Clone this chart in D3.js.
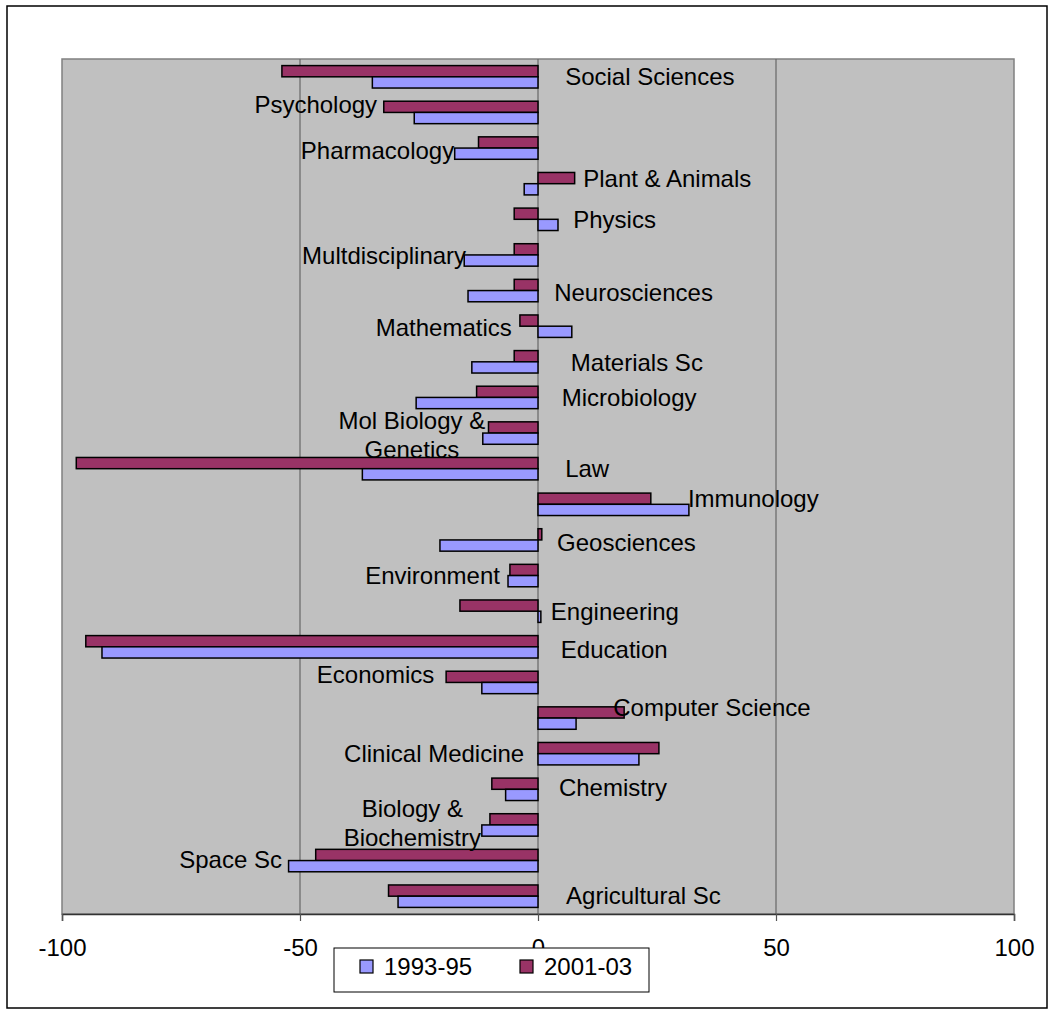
<!DOCTYPE html>
<html>
<head>
<meta charset="utf-8">
<script src="https://cdn.jsdelivr.net/npm/d3@7"></script>
<style>
  html, body { margin: 0; padding: 0; background: #fff; }
  svg { display: block; font-family: "Liberation Sans", Arial, sans-serif; }
</style>
</head>
<body>
<svg id="chart" width="1054" height="1014"></svg>
<script>
// ---- data (top to bottom as drawn) ----
const categories = [
  "Social Sciences", "Psychology", "Pharmacology", "Plant & Animals", "Physics",
  "Multdisciplinary", "Neurosciences", "Mathematics", "Materials Sc", "Microbiology",
  "Mol Biology & Genetics", "Law", "Immunology", "Geosciences", "Environment",
  "Engineering", "Education", "Economics", "Computer Science", "Clinical Medicine",
  "Chemistry", "Biology & Biochemistry", "Space Sc", "Agricultural Sc"
];
const series1993 = [
  -34.8, -26.0, -17.5, -2.9, 4.2,
  -15.5, -14.7, 7.1, -13.9, -25.6,
  -11.6, -36.9, 31.7, -20.6, -6.3,
  0.6, -91.6, -11.8, 8.0, 21.2,
  -6.8, -11.8, -52.4, -29.4
];
const series2001 = [
  -53.8, -32.4, -12.5, 7.7, -5.0,
  -5.0, -5.0, -3.8, -5.0, -12.9,
  -10.4, -97.0, 23.7, 0.8, -5.9,
  -16.4, -95.0, -19.3, 18.1, 25.4,
  -9.7, -10.1, -46.7, -31.4
];
const seriesNames = ["1993-95", "2001-03"];
const xTicks = [-100, -50, 0, 50, 100];

// label lines (category names split as shown)
const labelLines = categories.map(c =>
  c === "Mol Biology & Genetics" ? ["Mol Biology &", "Genetics"] :
  c === "Biology & Biochemistry" ? ["Biology &", "Biochemistry"] : [c]);

// label layout: anchor value on x axis, text anchor, vertical nudge (px)
const labelLayout = [
  [5.7, "start", 0], [-33.8, "end", -8], [-17.6, "end", 2], [9.5, "start", -5], [7.4, "start", 0],
  [-15.1, "end", 0], [3.4, "start", 2], [-5.5, "end", 1], [6.9, "start", 1], [5.0, "start", 0],
  [-26.5, "middle", 2], [5.7, "start", 0], [31.5, "start", -6], [4.0, "start", 2], [-8.0, "end", 0],
  [2.7, "start", 0], [4.8, "start", 3], [-21.8, "end", -8], [15.8, "start", -11], [-2.9, "end", 0],
  [4.4, "start", -2], [-26.4, "middle", -2], [-53.8, "end", -1], [5.9, "start", -1]
];

// ---- layout ----
const svg = d3.select("#chart");
const plot = { left: 62, right: 1014, top: 59, bottom: 914 };
const colors = { s1993: "#9999FF", s2001: "#993366" };

const x = d3.scaleLinear().domain([-100, 100]).range([plot.left, plot.right]);
const y = d3.scaleBand().domain(categories).range([plot.top, plot.bottom])
  .paddingInner(0.37).paddingOuter(0.185);
const sub = d3.scaleBand().domain(["2001-03", "1993-95"]).range([0, y.bandwidth()]);

// outer frame
svg.append("rect").attr("x", 7).attr("y", 6).attr("width", 1040).attr("height", 1002)
  .attr("fill", "#fff").attr("stroke", "#000").attr("stroke-width", 1.5);

// plot area
svg.append("rect").attr("x", plot.left).attr("y", plot.top)
  .attr("width", plot.right - plot.left).attr("height", plot.bottom - plot.top)
  .attr("fill", "#C0C0C0").attr("stroke", "#808080").attr("stroke-width", 1.5);

// gridlines
svg.append("g").selectAll("line").data(xTicks.filter(t => t > -100 && t < 100)).join("line")
  .attr("x1", d => x(d)).attr("x2", d => x(d))
  .attr("y1", plot.top).attr("y2", plot.bottom)
  .attr("stroke", "#666").attr("stroke-width", 1.2);

// bars
const rows = categories.map((c, i) => ({ c, v1: series1993[i], v2: series2001[i] }));
const barG = svg.append("g");
function drawSeries(key, name, color) {
  barG.append("g").selectAll("rect").data(rows).join("rect")
    .attr("x", d => x(Math.min(0, d[key])))
    .attr("width", d => Math.abs(x(d[key]) - x(0)))
    .attr("y", d => y(d.c) + sub(name))
    .attr("height", sub.bandwidth())
    .attr("fill", color).attr("stroke", "#000").attr("stroke-width", 1.5);
}
drawSeries("v2", "2001-03", colors.s2001);
drawSeries("v1", "1993-95", colors.s1993);

// x axis
const axis = d3.axisBottom(x).tickValues(xTicks).tickSize(7).tickPadding(18)
  .tickFormat(d => String(d));
const ax = svg.append("g").attr("transform", `translate(0,${plot.bottom})`).call(axis);
ax.select(".domain").attr("stroke", "#333").attr("stroke-width", 1.5);
ax.selectAll(".tick line").attr("stroke", "#555").attr("stroke-width", 1.2);
ax.selectAll(".tick text").attr("font-size", 24).attr("fill", "#000")
  .attr("font-family", "'Liberation Sans', Arial, sans-serif");

// category labels
const lg = svg.append("g").attr("font-size", 24).attr("fill", "#000");
categories.forEach((c, i) => {
  const [lx, anchor, dy] = labelLayout[i];
  const lines = labelLines[i];
  const lh = 28.5;
  const cy = y(c) + y.bandwidth() / 2 + dy;
  const t = lg.append("text").attr("x", x(lx)).attr("text-anchor", anchor);
  lines.forEach((ln, k) => {
    t.append("tspan").attr("x", x(lx))
      .attr("y", cy + 8.6 + (k - (lines.length - 1) / 2) * lh)
      .text(ln);
  });
});

// legend
const leg = svg.append("g");
leg.append("rect").attr("x", 334).attr("y", 948).attr("width", 315).attr("height", 44)
  .attr("fill", "#fff").attr("stroke", "#000").attr("stroke-width", 1);
const legItems = [
  { name: seriesNames[0], color: colors.s1993, x: 360 },
  { name: seriesNames[1], color: colors.s2001, x: 520 }
];
legItems.forEach(it => {
  leg.append("rect").attr("x", it.x).attr("y", 960).attr("width", 13).attr("height", 13)
    .attr("fill", it.color).attr("stroke", "#000").attr("stroke-width", 1.2);
  leg.append("text").attr("x", it.x + 24).attr("y", 975).attr("font-size", 24)
    .attr("fill", "#000").text(it.name);
});
</script>
</body>
</html>
